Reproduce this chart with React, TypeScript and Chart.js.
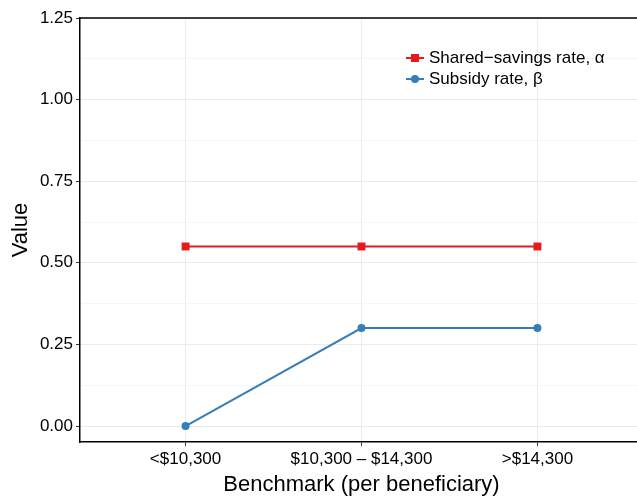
import React, { useEffect, useRef } from 'react';
import { Chart, registerables } from 'chart.js';

Chart.register(...registerables);

const categories = ['<$10,300', '$10,300 – $14,300', '>$14,300'];
const sharedSavingsRate = [0.55, 0.55, 0.55];
const subsidyRate = [0, 0.3, 0.3];
const yMajorTicks = [0, 0.25, 0.5, 0.75, 1.0, 1.25];
const yMinorTicks = [0.125, 0.375, 0.625, 0.875, 1.125];
const seriesNames = ['Shared−savings rate, α', 'Subsidy rate, β'];

const FONT = '"Liberation Sans", Arial, Helvetica, sans-serif';

const topBorderPlugin = {
  id: 'topBorder',
  afterDraw(chart: any) {
    const { ctx, chartArea } = chart;
    ctx.save();
    ctx.strokeStyle = '#000';
    ctx.lineWidth = 1.5;
    ctx.beginPath();
    ctx.moveTo(chartArea.left - 0.75, chartArea.top);
    ctx.lineTo(chartArea.right, chartArea.top);
    ctx.stroke();
    ctx.restore();
  },
};

const insideLegendPlugin = {
  id: 'insideLegend',
  afterDraw(chart: any) {
    const { ctx } = chart;
    const rows = [58, 79];
    const x0 = 406;
    chart.data.datasets.forEach((ds: any, i: number) => {
      const y = rows[i];
      ctx.save();
      ctx.strokeStyle = ds.borderColor;
      ctx.lineWidth = 2;
      ctx.beginPath();
      ctx.moveTo(x0, y);
      ctx.lineTo(x0 + 18, y);
      ctx.stroke();
      ctx.fillStyle = ds.borderColor;
      if (ds.pointStyle === 'rect') {
        ctx.fillRect(x0 + 9 - 4, y - 4, 8, 8);
      } else {
        ctx.beginPath();
        ctx.arc(x0 + 9, y, 4, 0, Math.PI * 2);
        ctx.fill();
      }
      ctx.fillStyle = '#000';
      ctx.font = `17px ${FONT}`;
      ctx.textBaseline = 'middle';
      ctx.textAlign = 'left';
      ctx.fillText(ds.label, x0 + 23, y);
      ctx.restore();
    });
  },
};

export default function App() {
  const canvasRef = useRef<HTMLCanvasElement | null>(null);

  useEffect(() => {
    if (!canvasRef.current) return;
    const chart = new Chart(canvasRef.current, {
      type: 'line',
      data: {
        datasets: [
          {
            label: seriesNames[0],
            data: sharedSavingsRate.map((v, i) => ({ x: i, y: v })),
            borderColor: '#E41A1C',
            backgroundColor: '#E41A1C',
            borderWidth: 2,
            pointStyle: 'rect',
            pointRadius: 5.6,
            pointBorderWidth: 0,
            pointBackgroundColor: '#E41A1C',
            pointHoverRadius: 5.6,
          },
          {
            label: seriesNames[1],
            data: subsidyRate.map((v, i) => ({ x: i, y: v })),
            borderColor: '#377EB8',
            backgroundColor: '#377EB8',
            borderWidth: 2,
            pointStyle: 'circle',
            pointRadius: 4,
            pointBorderWidth: 0,
            pointBackgroundColor: '#377EB8',
            pointHoverRadius: 4,
          },
        ],
      },
      options: {
        animation: false,
        responsive: false,
        devicePixelRatio: 1,
        layout: { padding: { left: 0, right: 17, top: 18, bottom: 0 } },
        plugins: {
          legend: { display: false },
          tooltip: { enabled: false },
        },
        scales: {
          x: {
            type: 'linear',
            min: -0.6,
            max: 2.6,
            afterBuildTicks: (axis: any) => {
              axis.ticks = categories.map((_, i) => ({ value: i }));
            },
            afterFit: (axis: any) => {
              axis.height = 62;
            },
            ticks: {
              autoSkip: false,
              maxRotation: 0,
              padding: 3,
              color: '#000',
              font: { family: FONT, size: 17 },
              callback: (v: any) => categories[Math.round(Number(v))] ?? '',
            },
            grid: {
              color: '#EBEBEB',
              lineWidth: 1,
              tickLength: 4,
              tickColor: '#333',
              tickWidth: 1,
            },
            border: { display: true, color: '#000', width: 1.5 },
            title: {
              display: true,
              text: 'Benchmark (per beneficiary)',
              color: '#000',
              font: { family: FONT, size: 22 },
              padding: { top: 0, bottom: 6 },
            },
          },
          y: {
            type: 'linear',
            min: -0.049,
            max: 1.25,
            afterBuildTicks: (axis: any) => {
              axis.ticks = [...yMajorTicks, ...yMinorTicks]
                .sort((a, b) => a - b)
                .map((v) => ({ value: v }));
            },
            afterFit: (axis: any) => {
              axis.width = 80;
            },
            ticks: {
              padding: 3,
              color: '#000',
              font: { family: FONT, size: 17 },
              callback: (v: any) => {
                const n = Number(v);
                return yMajorTicks.includes(n) ? n.toFixed(2) : '';
              },
            },
            grid: {
              color: (ctx: any) =>
                ctx.tick && yMinorTicks.includes(ctx.tick.value) ? '#F5F5F5' : '#EBEBEB',
              lineWidth: 1,
              tickLength: 4,
              tickColor: (ctx: any) =>
                ctx.tick && yMinorTicks.includes(ctx.tick.value) ? 'rgba(0,0,0,0)' : '#333',
              tickWidth: 1,
            },
            border: { display: true, color: '#000', width: 1.5 },
            title: {
              display: true,
              text: 'Value',
              color: '#000',
              font: { family: FONT, size: 22 },
              padding: { top: 8, bottom: 0 },
            },
          },
        },
      },
      plugins: [topBorderPlugin, insideLegendPlugin],
    } as any);
    return () => chart.destroy();
  }, []);

  return (
    <div
      style={{
        position: 'absolute',
        left: 0,
        top: 0,
        width: 637,
        height: 504,
        overflow: 'hidden',
        background: '#fff',
      }}
    >
      <canvas ref={canvasRef} width={660} height={504} style={{ width: 660, height: 504 }} />
    </div>
  );
}
